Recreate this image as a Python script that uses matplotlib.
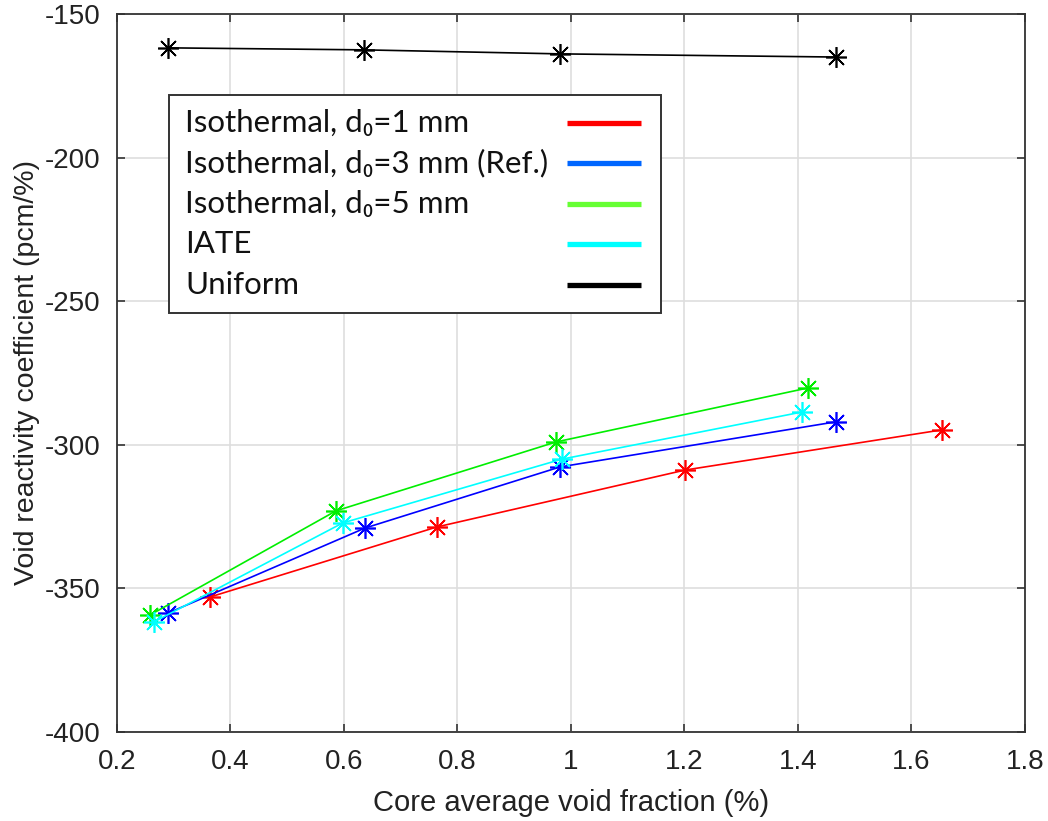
import matplotlib.pyplot as plt
from matplotlib.lines import Line2D
from matplotlib.patches import Rectangle

# --- Data ---
x_d1 = [0.364, 0.764, 1.201, 1.654]
y_d1 = [-353.0, -328.6, -308.8, -294.8]

x_d3 = [0.290, 0.637, 0.981, 1.467]
y_d3 = [-358.6, -329.0, -307.7, -292.0]

x_d5 = [0.258, 0.586, 0.974, 1.418]
y_d5 = [-359.3, -323.0, -299.0, -280.2]

x_iate = [0.265, 0.598, 0.984, 1.407]
y_iate = [-361.7, -327.2, -305.0, -288.6]

x_uni = [0.290, 0.635, 0.981, 1.467]
y_uni = [-161.8, -162.5, -163.9, -165.0]

labels = ["Isothermal, d\u2080=1 mm", "Isothermal, d\u2080=3 mm (Ref.)",
          "Isothermal, d\u2080=5 mm", "IATE", "Uniform"]
legend_colors = ["#ff0000", "#0066ff", "#66ff33", "#00ffff", "#000000"]

xticks = [0.2, 0.4, 0.6, 0.8, 1.0, 1.2, 1.4, 1.6, 1.8]
xtick_labels = ["0.2", "0.4", "0.6", "0.8", "1", "1.2", "1.4", "1.6", "1.8"]
yticks = [-400, -350, -300, -250, -200, -150]

plt.rcParams['font.family'] = ['Liberation Sans', 'DejaVu Sans']
plt.rcParams['axes.unicode_minus'] = False

fig = plt.figure(figsize=(10.48, 8.21), dpi=100)
ax = fig.add_axes([0.1116, 0.1084, 0.8664, 0.8746])

mk = dict(marker=(8, 2, 0), markersize=15, markeredgewidth=1.2, lw=1.2)
ax.plot(x_d1, y_d1, color="#ff0000", **mk)
ax.plot(x_d3, y_d3, color="#0000ff", **mk)
ax.plot(x_d5, y_d5, color="#00ee00", **mk)
ax.plot(x_iate, y_iate, color="#00ffff", **mk)
ax.plot(x_uni, y_uni, color="#000000", **mk)

ax.set_xlim(0.2, 1.8)
ax.set_ylim(-400, -150)
ax.set_xticks(xticks)
ax.set_xticklabels(xtick_labels)
ax.set_yticks(yticks)
ax.tick_params(direction="in", top=True, right=True, length=6, width=1.2,
               labelsize=20, pad=12, color="#333333", labelcolor="#222222")
ax.grid(True, color="#dedede", lw=1.2)
ax.set_axisbelow(True)
for s in ax.spines.values():
    s.set_linewidth(1.3)
    s.set_color("#333333")

ax.set_xlabel("Core average void fraction (%)", fontsize=21, labelpad=10, color="#222222")
ax.set_ylabel("Void reactivity coefficient (pcm/%)", fontsize=20.5, labelpad=3, color="#222222")

# --- Legend drawn by hand: text on the left, thick line on the right ---
ax.add_patch(Rectangle((0.0573, 0.5836), 0.5991 - 0.0573, 0.8872 - 0.5836,
                       transform=ax.transAxes, facecolor="white", edgecolor="#333333",
                       lw=1.4, zorder=5))
row_top = 0.8482
row_step = 0.0564
for i, (lab, c) in enumerate(zip(labels, legend_colors)):
    yy = row_top - i * row_step
    ax.add_line(Line2D([0.4956, 0.5771], [yy, yy], color=c, lw=3.8,
                       transform=ax.transAxes, zorder=6, solid_capstyle="butt"))
    ax.text(0.0749, yy, lab, transform=ax.transAxes, va="center", ha="left",
            fontsize=22.5, family=['Lato', 'DejaVu Sans'], color="#111111", zorder=6)

fig.savefig("out.png", dpi=100)
